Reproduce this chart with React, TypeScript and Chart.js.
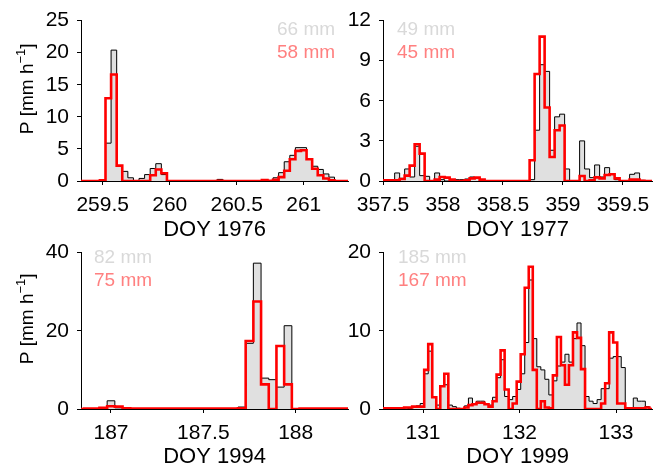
import React, { useEffect, useRef } from "react";
import { Chart, registerables } from "chart.js";

Chart.register(...registerables);

const FONT = "'Liberation Sans', Arial, Helvetica, sans-serif";
const BIN_DAYS = 1 / 24; // hourly bins

// ---------- Panel A : DOY 1976 ----------
const aTitle = "DOY 1976";
const aFirstBinStart = 259.3125;
const aGray = [0, 0, 0, 0, 0, 5.9, 20.4, 2.4, 1.5, 0.5, 0, 0.4, 1.0, 1.95, 2.7, 1.0, 0, 0, 0, 0, 0, 0, 0, 0, 0, 0.25, 0, 0, 0, 0, 0, 0, 0, 0, 0, 0.5, 1.3, 3.0, 4.0, 5.2, 5.2, 3.4, 2.3, 1.8, 1.1, 0.6, 0, 0, 0];
const aRed = [0, 0, 0, 0, 0.1, 12.9, 16.6, 2.4, 0, 0, 0, 0, 0, 0.9, 1.8, 1.2, 0, 0, 0, 0, 0, 0, 0, 0, 0, 0.05, 0, 0, 0, 0, 0, 0, 0, 0.15, 0.05, 0.2, 0.6, 1.6, 3.4, 4.7, 4.8, 3.4, 1.9, 0.9, 0.4, 0.1, 0, 0, 0];
const aXTicks = [259.5, 260, 260.5, 261];
const aYTicks = [0, 5, 10, 15, 20, 25];
const aTotals = ["66 mm", "58 mm"];

// ---------- Panel B : DOY 1977 ----------
const bTitle = "DOY 1977";
const bFirstBinStart = 357.47208;
const bGray = [0, 0, 0.05, 0.6, 0.2, 0.9, 0.3, 2.6, 0.4, 0.35, 0, 0.6, 0.1, 0, 0, 0.1, 0.1, 0.15, 0.3, 0.2, 0, 0, 0, 0, 0, 0, 0, 0, 0, 0, 0.1, 3.8, 8.7, 8.2, 2.3, 4.8, 5.0, 0.9, 0, 0, 3.0, 0.9, 0.25, 1.2, 0.3, 1.0, 0.55, 0.1, 0, 0, 0.5, 0.6, 0.05, 0, 0];
const bRed = [0.05, 0.05, 0.05, 0.05, 0.15, 0.4, 1.15, 2.75, 2.05, 0, 0, 0.1, 0.3, 0.25, 0.1, 0, 0, 0.05, 0.2, 0.25, 0.1, 0, 0, 0, 0, 0, 0, 0, 0, 0, 1.55, 8.0, 10.8, 5.5, 1.8, 3.8, 4.15, 0, 0, 0, 0.37, 0, 0.05, 0.27, 0.2, 0.45, 0.5, 0.2, 0, 0, 0.1, 0.1, 0.02, 0, 0];
const bXTicks = [357.5, 358, 358.5, 359, 359.5];
const bYTicks = [0, 3, 6, 9, 12];
const bTotals = ["49 mm", "45 mm"];

// ---------- Panel C : DOY 1994 ----------
const cTitle = "DOY 1994";
const cFirstBinStart = 186.8125;
const cGray = [0, 0, 0, 0, 2.1, 0.3, 0, 0, 0, 0, 0, 0, 0, 0, 0, 0, 0, 0, 0, 0, 0, 0.5, 16.8, 37.3, 7.9, 7.5, 5.6, 21.3, 0, 0, 0, 0, 0, 0, 0, 0];
const cRed = [0, 0.1, 0.1, 0.3, 0.7, 0.6, 0.2, 0.1, 0.1, 0.1, 0.1, 0.1, 0.1, 0.1, 0.1, 0.1, 0.1, 0.1, 0.1, 0.1, 0.1, 0.2, 17.4, 27.5, 6.3, 0, 16.1, 6.3, 0, 0.1, 0.1, 0.1, 0.1, 0.1, 0.1, 0.1];
const cXTicks = [187, 187.5, 188];
const cYTicks = [0, 20, 40];
const cTotals = ["82 mm", "75 mm"];

// ---------- Panel D : DOY 1999 ----------
const dTitle = "DOY 1999";
const dFirstBinStart = 130.55417;
const dGray = [0, 0, 0, 0, 0, 0, 0, 0.1, 0.3, 0.4, 0.7, 4.5, 7.4, 1.6, 0.5, 3.0, 3.1, 0.5, 0.3, 0.1, 0, 0.4, 1.4, 0.7, 1.0, 1.0, 0.7, 0.5, 1.5, 4.0, 6.3, 1.6, 1.2, 1.6, 2.5, 4.5, 8.5, 16.5, 9.0, 5.4, 5.0, 3.8, 1.8, 3.6, 5.5, 6.0, 7.0, 6.0, 9.0, 11.0, 8.1, 1.6, 1.0, 0.7, 1.2, 2.6, 2.6, 6.5, 6.7, 6.7, 5.3, 0.1, 0, 1.4, 1.0, 1.0, 0.3, 0];
const dRed = [0.1, 0.1, 0.1, 0.1, 0.1, 0.1, 0.2, 0.2, 0.3, 0.3, 0.3, 5.0, 8.3, 1.5, 0, 2.9, 4.5, 0, 0, 0, 0, 0.2, 0.5, 0.6, 0.8, 0.8, 0.6, 0.3, 1.0, 4.4, 7.5, 2.5, 0, 0.7, 3.5, 7.0, 15.5, 18.2, 5.0, 0, 1.0, 0.2, 0.1, 4.3, 9.2, 5.6, 3.1, 5.6, 9.8, 9.1, 5.1, 0, 0, 0, 0, 0.7, 3.3, 9.8, 8.5, 0.7, 0.7, 0.1, 0.1, 0.1, 0.1, 0.1, 0.2, 0];
const dXTicks = [131, 132, 133];
const dYTicks = [0, 10, 20];
const dTotals = ["185 mm", "167 mm"];

const GRAY_TEXT = "#d9d9d9";
const RED_TEXT = "#ff8080";

type Box = { left: number; top: number; width: number; height: number };
type Area = { left: number; top: number; right: number; bottom: number };
type PanelSpec = {
  title: string;
  firstBinStart: number;
  gray: number[];
  red: number[];
  xMin: number;
  xMax: number;
  xTicks: number[];
  yMax: number;
  yTicks: number[];
  totals: string[];
  yLabel: boolean;
  box: Box;
  area: Area;
  noteX: number;
  noteY: number;
};

const PANELS: PanelSpec[] = [
  {
    title: aTitle, firstBinStart: aFirstBinStart, gray: aGray, red: aRed,
    xMin: 259.338, xMax: 261.33, xTicks: aXTicks, yMax: 25, yTicks: aYTicks,
    totals: aTotals, yLabel: true,
    box: { left: 0, top: 0, width: 352, height: 243 },
    area: { left: 81, top: 20, right: 348, bottom: 181 },
    noteX: 277, noteY: 30,
  },
  {
    title: bTitle, firstBinStart: bFirstBinStart, gray: bGray, red: bRed,
    xMin: 357.5, xMax: 359.742, xTicks: bXTicks, yMax: 12, yTicks: bYTicks,
    totals: bTotals, yLabel: false,
    box: { left: 332, top: 0, width: 333, height: 243 },
    area: { left: 383, top: 20, right: 652, bottom: 181 },
    noteX: 397, noteY: 30,
  },
  {
    title: cTitle, firstBinStart: cFirstBinStart, gray: cGray, red: cRed,
    xMin: 186.8376, xMax: 188.2832, xTicks: cXTicks, yMax: 40, yTicks: cYTicks,
    totals: cTotals, yLabel: true,
    box: { left: 0, top: 232, width: 352, height: 238 },
    area: { left: 81, top: 248, right: 348, bottom: 409 },
    noteX: 94, noteY: 258,
  },
  {
    title: dTitle, firstBinStart: dFirstBinStart, gray: dGray, red: dRed,
    xMin: 130.5855, xMax: 133.373, xTicks: dXTicks, yMax: 20, yTicks: dYTicks,
    totals: dTotals, yLabel: false,
    box: { left: 332, top: 232, width: 333, height: 238 },
    area: { left: 383, top: 248, right: 652, bottom: 409 },
    noteX: 398, noteY: 258,
  },
];

function stepPoints(start: number, vals: number[]) {
  const pts = vals.map((v, i) => ({ x: start + i * BIN_DAYS, y: v }));
  pts.push({ x: start + vals.length * BIN_DAYS, y: vals[vals.length - 1] });
  return pts;
}

function buildConfig(p: PanelSpec): any {
  const yAxisW = p.area.left - p.box.left;
  const padTop = p.area.top - p.box.top;
  const padRight = p.box.left + p.box.width - p.area.right;
  const xAxisH = p.box.top + p.box.height - p.area.bottom;
  const noteX = p.noteX - p.box.left;
  const noteY = p.noteY - p.box.top;

  const notes = {
    id: "notes",
    afterDraw(chart: any) {
      const ctx = chart.ctx as CanvasRenderingContext2D;
      ctx.save();
      ctx.font = `19px ${FONT}`;
      ctx.textBaseline = "middle";
      ctx.textAlign = "left";
      ctx.fillStyle = GRAY_TEXT;
      ctx.fillText(p.totals[0], noteX, noteY);
      ctx.fillStyle = RED_TEXT;
      ctx.fillText(p.totals[1], noteX, noteY + 23);
      if (p.yLabel) {
        const ca = chart.chartArea;
        const cy = (ca.top + ca.bottom) / 2 - 12;
        ctx.translate(28, cy);
        ctx.rotate(-Math.PI / 2);
        const mainF = `19px ${FONT}`;
        const supF = `13px ${FONT}`;
        const parts = [
          { t: "P [mm h", f: mainF, dy: 0 },
          { t: "\u22121", f: supF, dy: -7 },
          { t: "]", f: mainF, dy: 0 },
        ];
        let total = 0;
        const widths = parts.map((pt) => {
          ctx.font = pt.f;
          const w = ctx.measureText(pt.t).width;
          total += w;
          return w;
        });
        let x = -total / 2;
        ctx.fillStyle = "#000";
        parts.forEach((pt, i) => {
          ctx.font = pt.f;
          ctx.fillText(pt.t, x, pt.dy);
          x += widths[i];
        });
      }
      ctx.restore();
    },
  };

  const tickFont = { family: FONT, size: 21 };
  const axisCommon = {
    grid: {
      display: true,
      drawOnChartArea: false,
      drawTicks: true,
      tickLength: 4,
      color: "#000",
      tickColor: "#000",
      lineWidth: 1,
    },
    border: { display: true, color: "#000", width: 1 },
  };

  return {
    type: "line",
    data: {
      datasets: [
        {
          data: stepPoints(p.firstBinStart, p.red),
          borderColor: "#ff0000",
          borderWidth: 2.6,
          stepped: "before",
          fill: false,
          pointRadius: 0,
        },
        {
          data: stepPoints(p.firstBinStart, p.gray),
          borderColor: "#000000",
          borderWidth: 1,
          backgroundColor: "#e0e0e0",
          stepped: "before",
          fill: "origin",
          pointRadius: 0,
        },
      ],
    },
    options: {
      animation: false,
      responsive: false,
      maintainAspectRatio: false,
      events: [],
      layout: { padding: { left: 0, top: padTop, right: padRight, bottom: 0 } },
      plugins: { legend: { display: false }, tooltip: { enabled: false } },
      scales: {
        x: {
          type: "linear",
          min: p.xMin,
          max: p.xMax,
          afterBuildTicks: (s: any) => {
            s.ticks = p.xTicks.map((value) => ({ value }));
          },
          afterFit: (s: any) => {
            s.height = xAxisH;
          },
          ticks: {
            font: tickFont,
            color: "#000",
            padding: 8,
            maxRotation: 0,
            autoSkip: false,
            callback: (v: number) => String(v),
          },
          title: {
            display: true,
            text: p.title,
            font: { family: FONT, size: 22 },
            color: "#000",
            padding: { top: 0, bottom: 0 },
          },
          ...axisCommon,
        },
        y: {
          type: "linear",
          min: 0,
          max: p.yMax,
          afterBuildTicks: (s: any) => {
            s.ticks = p.yTicks.map((value) => ({ value }));
          },
          afterFit: (s: any) => {
            s.width = yAxisW;
          },
          ticks: {
            font: tickFont,
            color: "#000",
            padding: 8,
            autoSkip: false,
            callback: (v: number) => String(v),
          },
          ...axisCommon,
        },
      },
    },
    plugins: [notes],
  };
}

function Panel({ spec }: { spec: PanelSpec }) {
  const ref = useRef<HTMLCanvasElement>(null);
  useEffect(() => {
    const canvas = ref.current;
    if (!canvas) return;
    const chart = new Chart(canvas, buildConfig(spec));
    return () => chart.destroy();
  }, [spec]);
  return (
    <canvas
      ref={ref}
      width={spec.box.width}
      height={spec.box.height}
      style={{
        position: "absolute",
        left: spec.box.left,
        top: spec.box.top,
        width: spec.box.width,
        height: spec.box.height,
      }}
    />
  );
}

export default function App() {
  return (
    <div
      style={{
        position: "fixed",
        left: 0,
        top: 0,
        width: 665,
        height: 470,
        background: "#ffffff",
        overflow: "hidden",
      }}
    >
      {PANELS.map((p) => (
        <Panel key={p.title} spec={p} />
      ))}
    </div>
  );
}
